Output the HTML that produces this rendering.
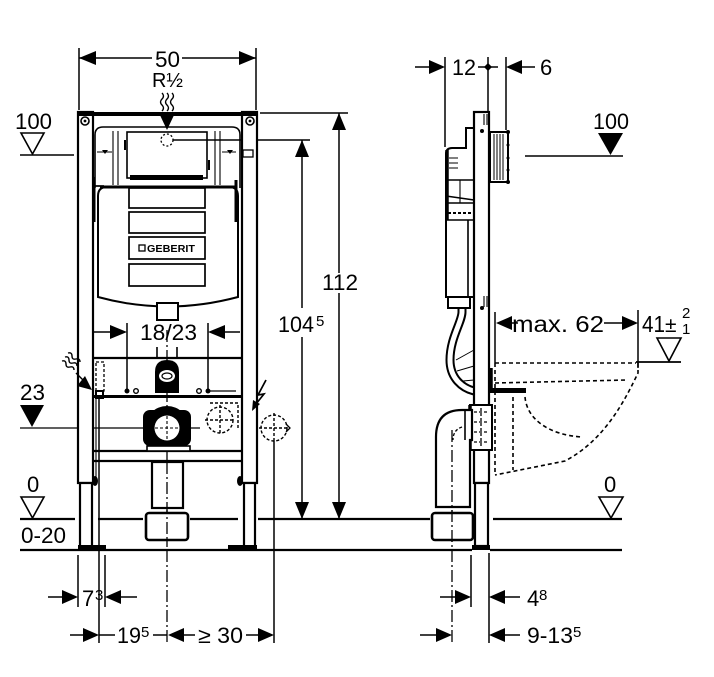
<!DOCTYPE html>
<html><head><meta charset="utf-8"><style>html,body{margin:0;padding:0;background:#fff}svg{display:block}</style></head>
<body>
<svg width="714" height="677" viewBox="0 0 714 677" xmlns="http://www.w3.org/2000/svg" font-family="'Liberation Sans', Arial, sans-serif">
<rect width="714" height="677" fill="#fff"/>

<!-- ================= LEFT VIEW ================= -->
<g stroke="#000" fill="none" stroke-width="1.5">
  <path d="M79 48V110M256 48V110M79 58H152M182 58H256"/>
  <path d="M162 93q3 3 0 6t0 6t0 6M167 93q3 3 0 6t0 6t0 6M172 93q3 3 0 6t0 6t0 6" stroke-width="1.4"/>
  <path d="M20 155H74"/>
  <path d="M20 428H200" stroke-width="1.3"/>
  <path d="M260 113H348M173 140H310"/>
  <path d="M302 140V308M302 337V519M339 113V273M339 293V519"/>
  <path d="M167 330V643" stroke-dasharray="12 3 2 3" stroke-width="1.3"/>
  <path d="M78 555V607M105 555V607M99 395V643M274 441V643"/>
  <path d="M93 332H111M225 332H240M127 323V392M208 323V392"/>
  <path d="M48 597H63M121 597H137M70 635H84M99 635H115M153 635H167M184 635H195M246 635H259"/>
</g>

<!-- Posts / frame -->
<g stroke="#000" stroke-width="2.2" fill="#fff">
  <rect x="78" y="112" width="15" height="371"/>
  <rect x="242" y="112" width="15" height="371"/>
  <rect x="80" y="483" width="12" height="64"/>
  <rect x="244" y="483" width="11" height="64"/>
</g>
<rect x="78" y="112" width="179" height="4" fill="#000"/>
<rect x="78" y="545" width="28" height="4" fill="#000"/>
<rect x="228" y="545" width="29" height="4" fill="#000"/>
<ellipse cx="95" cy="481" rx="3" ry="5" fill="#000"/>
<ellipse cx="240" cy="481" rx="3" ry="5" fill="#000"/>
<g stroke="#000" fill="none" stroke-width="1.6">
  <circle cx="85" cy="121" r="4"/><circle cx="250" cy="121" r="4"/>
</g>
<circle cx="85" cy="121" r="1.4" fill="#000"/><circle cx="250" cy="121" r="1.4" fill="#000"/>

<!-- Cistern upper mechanism -->
<g stroke="#000" fill="none" stroke-width="1.6">
  <path d="M95 188V135Q95 127 103 127H232Q240 127 240 135V188"/>
  <rect x="127" y="132" width="80" height="46"/>
  <path d="M113 131V185M118 131V185M215 131V185M220 131V185" stroke-width="1.1"/>
  <circle cx="167" cy="140" r="6" stroke-dasharray="2 2" stroke-width="1.3"/>
  <path d="M97 152H112M222 152H236" stroke-width="1.1"/>
  <rect x="243" y="150" width="10" height="7" stroke-width="1.3"/>
  <path d="M125 140v10M209 160v10" stroke-width="2"/>
</g>
<rect x="130" y="175" width="73" height="5" fill="#000"/>
<path d="M102 150l3 4 3-4zM227 150l3 4 3-4z" fill="#000"/>

<!-- Cistern body -->
<g stroke="#000" fill="#fff" stroke-width="2">
  <path d="M98 297V196Q98 187 107 187H229Q238 187 238 196V297Q167 316 98 297Z"/>
</g>
<path d="M100 187H236" stroke="#000" stroke-width="3"/>
<rect x="157" y="303" width="21" height="17" fill="#fff" stroke="#000" stroke-width="2"/>
<g stroke="#000" fill="none" stroke-width="1.7">
  <rect x="129" y="188" width="76" height="20"/>
  <rect x="129" y="212" width="76" height="21"/>
  <rect x="129" y="237" width="76" height="22"/>
  <rect x="129" y="264" width="76" height="22"/>
  <rect x="139" y="245" width="6" height="6" stroke-width="1.3"/>
  <path d="M94 177V222" stroke-width="3"/>
  <path d="M236 180V222" stroke-width="3"/>
  <path d="M94 186H104"/>
</g>
<text x="147" y="252" font-size="10" font-weight="bold" textLength="48" lengthAdjust="spacingAndGlyphs">GEBERIT</text>

<!-- Lower frame -->
<g stroke="#000" fill="none">
  <path d="M93 358H242" stroke-width="2.2"/>
  <path d="M157 347V358M177 347V358" stroke-width="1.6"/>
  <path d="M93 396.5H242" stroke-width="3"/>
  <path d="M93 451H242M93 461H242" stroke-width="2.2"/>
  <rect x="96" y="362" width="8" height="29" stroke-dasharray="3 2" stroke-width="1.3"/>
  <rect x="96" y="391" width="7" height="7" stroke-width="2"/>
  <path d="M96 398V483" stroke-width="1.1"/>
  <path d="M208 391H236" stroke-width="1.3"/>
  <circle cx="136" cy="391" r="2.3" stroke-width="1.4"/>
  <circle cx="199" cy="391" r="2.3" stroke-width="1.4"/>
</g>
<circle cx="127" cy="391" r="2.5" fill="#000"/>
<circle cx="208" cy="391" r="2.5" fill="#000"/>

<!-- Flush connector -->
<path d="M155 393V372Q155 360 167 360Q179 360 179 372V393Z" fill="#000"/>
<ellipse cx="167" cy="376" rx="8" ry="6" fill="#fff"/>
<ellipse cx="167" cy="376" rx="5" ry="3" fill="none" stroke="#000" stroke-width="1.2"/>

<!-- Big pipe saddle -->
<rect x="143" y="410" width="48" height="36" rx="7" fill="#000"/>
<circle cx="167" cy="428" r="22" fill="#000"/>
<circle cx="167" cy="428" r="12.5" fill="#fff"/>
<rect x="147" y="446" width="43" height="5" fill="#fff" stroke="#000" stroke-width="1.6"/>
<path d="M155 428H179M167 416V440" stroke="#000" stroke-width="1.1" stroke-dasharray="3 2"/>

<!-- Drain pipe + socket -->
<g stroke="#000" fill="#fff" stroke-width="2.2">
  <rect x="152" y="462" width="31" height="46"/>
  <rect x="146" y="513" width="42" height="27" rx="3" stroke-width="2.6"/>
</g>
<path d="M167 462V545" stroke="#000" stroke-width="1.3" stroke-dasharray="12 3 2 3"/>

<!-- Dashed water circles -->
<g stroke="#000" fill="none" stroke-width="1.4" stroke-dasharray="3 2">
  <circle cx="220" cy="420" r="13"/>
  <path d="M205 420H235M220 405V435"/>
  <path d="M210 403H238V430"/>
  <circle cx="274" cy="428" r="13"/>
  <path d="M259 428H289M274 413V443"/>
</g>
<path d="M286 424l4 4-4 4" stroke="#000" fill="none" stroke-width="1.3"/>

<!-- Lightning -->
<path d="M266 380L258 395L264 394L256 404" stroke="#000" fill="none" stroke-width="1.7"/>
<polygon points="252,411 260,404 253,400" fill="#000"/>

<!-- Wavy arrow near 23 -->
<g stroke="#000" fill="none" stroke-width="1.4">
  <path d="M62 361q4 -1 4 3t4 3t4 3"/>
  <path d="M65 357q4 -1 4 3t4 3t4 3"/>
  <path d="M68 353q4 -1 4 3t4 3t4 3"/>
  <path d="M76 373L85 382"/>
</g>
<polygon points="92,390 77,386 85,376" fill="#000"/>

<!-- Level triangles left -->
<g stroke="#000" fill="none" stroke-width="1.6">
  <polygon points="21,133 44,133 32.5,154"/>
  <polygon points="21,497 44,497 32.5,518"/>
</g>
<polygon points="20,405 44,405 32,427" fill="#000"/>

<!-- Arrowheads left -->
<g fill="#000">
  <polygon points="79,58 96,51 96,65"/>
  <polygon points="256,58 239,51 239,65"/>
  <polygon points="159,113 175,113 167,130"/>
  <polygon points="302,140 295,157 309,157"/>
  <polygon points="302,519 295,502 309,502"/>
  <polygon points="339,113 332,130 346,130"/>
  <polygon points="339,519 332,502 346,502"/>
  <polygon points="127,332 110,325 110,339"/>
  <polygon points="208,332 225,325 225,339"/>
  <polygon points="78,597 62,590 62,604"/>
  <polygon points="105,597 121,590 121,604"/>
  <polygon points="99,635 83,628 83,642"/>
  <polygon points="168,635 184,628 184,642"/>
  <polygon points="274,635 258,628 258,642"/>
</g>

<!-- Floor lines -->
<g stroke="#000" stroke-width="2.3">
  <path d="M20 519H75M98 519H143M190 519H238M258 519H430M493 519H622"/>
  <path d="M20 550H472M490 550H622"/>
</g>

<!-- ================= RIGHT VIEW ================= -->
<g stroke="#000" fill="none" stroke-width="1.5">
  <path d="M445 57V147M488 57V112M506 57V130M415 67H429M478 67H498M522 67H535"/>
  <path d="M525 156H623"/>
  <path d="M495 312V363M638 310V368M512 323H518M604 323H622"/>
  <path d="M636 362H681" stroke-width="1.7"/>
  <path d="M471 555V607M489 553V643M440 597H455M505 597H520M420 635H436M505 635H520"/>
  <path d="M452 430V643" stroke-dasharray="12 3 2 3" stroke-width="1.3"/>
</g>
<polygon points="488,63 492,67 488,71 484,67" fill="#000"/>

<!-- Flush pipe (tube) -->
<path d="M462 300V312C462 322 450 338 450 360C450 378 462 388 474 391" stroke="#000" stroke-width="9" fill="none"/>
<path d="M462 300V312C462 322 450 338 450 360C450 378 462 388 474 391" stroke="#fff" stroke-width="5" fill="none"/>
<path d="M456 360L474 350M457 371L474 366M463 381L474 380" stroke="#000" stroke-width="1"/>

<!-- Cistern side -->
<g stroke="#000" fill="#fff" stroke-width="2">
  <path d="M474 128H466V148H452Q446 148 446 154V297H474Z"/>
  <rect x="448" y="297" width="22" height="11"/>
</g>
<g stroke="#000" fill="none" stroke-width="1.6">
  <path d="M447 150V220" stroke-width="3.5"/>
  <path d="M446 180H474M446 196L474 200M446 203H474M446 220H474M468 220V297"/>
  <path d="M448 213H474" stroke-dasharray="3 2" stroke-width="2"/>
  <path d="M449 158H458M449 163H458M449 168H458" stroke-width="1.1"/>
  <path d="M460 180V203" stroke-width="1.1"/>
</g>

<!-- Post -->
<g stroke="#000" stroke-width="2.2" fill="#fff">
  <rect x="474" y="112" width="15" height="371"/>
  <rect x="475" y="483" width="13" height="63"/>
</g>
<rect x="472" y="545" width="18" height="5" fill="#000"/>
<circle cx="482" cy="131" r="2" fill="#000"/>
<circle cx="482" cy="308" r="2" fill="#000"/>
<path d="M484 114V125M487 114V125M484 296V307M487 296V307" stroke="#000" stroke-width="1.1"/>

<!-- Plate -->
<rect x="490" y="132" width="18" height="50" fill="#fff" stroke="#000" stroke-width="2"/>
<path d="M494 134V180M497 134V180M500 134V180M503 134V180" stroke="#000" stroke-width="1"/>
<g fill="#000">
  <circle cx="508" cy="132" r="2"/><circle cx="508" cy="145" r="1.5"/><circle cx="508" cy="158" r="1.5"/><circle cx="508" cy="170" r="1.5"/><circle cx="508" cy="182" r="2"/>
</g>

<!-- Bolt & bar -->
<rect x="488" y="388" width="38" height="5" fill="#000"/>
<path d="M491 368V388" stroke="#000" stroke-width="3.5"/>

<!-- Connector block -->
<rect x="470" y="405" width="22" height="45" fill="#fff" stroke="#000" stroke-width="2"/>
<path d="M474 412H488M474 422H488M474 432H488M474 442H488M481 408V447" stroke="#000" stroke-width="1.3" stroke-dasharray="3 2"/>
<path d="M470 405V450" stroke="#000" stroke-width="3.5"/>

<!-- Drain elbow -->
<g stroke="#000" fill="#fff" stroke-width="2.2">
  <path d="M472 410H462Q436 410 436 437V507H470V440H472Z"/>
  <rect x="432" y="513" width="41" height="27" rx="3" stroke-width="2.6"/>
</g>
<path d="M465 410V440" stroke="#000" stroke-width="1.6"/>
<path d="M462 427Q453 430 453 440" stroke="#000" stroke-width="1.3" stroke-dasharray="3 2" fill="none"/>
<path d="M452 430V545" stroke="#000" stroke-width="1.3" stroke-dasharray="12 3 2 3"/>

<!-- Dashed toilet -->
<g stroke="#000" fill="none" stroke-width="1.6" stroke-dasharray="4 3">
  <path d="M495 363H636"/>
  <path d="M495 363V475"/>
  <path d="M638 363V373C625 400 605 440 565 461L495 475"/>
  <path d="M495 383L627 380"/>
  <path d="M525 397C527 420 550 435 582 437"/>
  <path d="M513 397V470"/>
</g>

<!-- Right triangles -->
<polygon points="598,133 623,133 610.5,155" fill="#000"/>
<g stroke="#000" fill="none" stroke-width="1.6">
  <polygon points="657,338 681,338 669,361"/>
  <polygon points="599,497 623,497 611,518"/>
</g>

<!-- Arrowheads right -->
<g fill="#000">
  <polygon points="445,67 429,60 429,74"/>
  <polygon points="506,67 522,60 522,74"/>
  <polygon points="496,323 512,316 512,330"/>
  <polygon points="638,323 622,316 622,330"/>
  <polygon points="471,597 455,590 455,604"/>
  <polygon points="489,597 505,590 505,604"/>
  <polygon points="452,635 436,628 436,642"/>
  <polygon points="489,635 505,628 505,642"/>
</g>

<!-- ================= TEXT ================= -->
<g font-size="22" fill="#000">
  <text x="155" y="67" textLength="25" lengthAdjust="spacingAndGlyphs">50</text>
  <text x="152" y="87" font-size="20" textLength="31" lengthAdjust="spacingAndGlyphs">R½</text>
  <text x="15" y="129" textLength="37" lengthAdjust="spacingAndGlyphs">100</text>
  <text x="322" y="290" textLength="36" lengthAdjust="spacingAndGlyphs">112</text>
  <text x="278" y="332" textLength="36" lengthAdjust="spacingAndGlyphs">104</text>
  <text x="316" y="326" font-size="15">5</text>
  <text x="140" y="340" textLength="57" lengthAdjust="spacingAndGlyphs">18/23</text>
  <text x="20" y="400" textLength="25" lengthAdjust="spacingAndGlyphs">23</text>
  <text x="27" y="492">0</text>
  <text x="21" y="543" textLength="45" lengthAdjust="spacingAndGlyphs">0-20</text>
  <text x="82" y="606">7</text>
  <text x="95" y="600" font-size="15">3</text>
  <text x="117" y="643" textLength="24" lengthAdjust="spacingAndGlyphs">19</text>
  <text x="141" y="637" font-size="15">5</text>
  <text x="198" y="643" textLength="45" lengthAdjust="spacingAndGlyphs">≥ 30</text>

  <text x="452" y="75" textLength="24" lengthAdjust="spacingAndGlyphs">12</text>
  <text x="540" y="75">6</text>
  <text x="593" y="129" textLength="36" lengthAdjust="spacingAndGlyphs">100</text>
  <text x="512" y="332" font-size="23" textLength="92" lengthAdjust="spacingAndGlyphs">max. 62</text>
  <text x="642" y="332" font-size="23" textLength="23" lengthAdjust="spacingAndGlyphs">41</text>
  <text x="665" y="332" font-size="21">±</text>
  <text x="682" y="318" font-size="15">2</text>
  <text x="682" y="334" font-size="15">1</text>
  <text x="604" y="492">0</text>
  <text x="527" y="606">4</text>
  <text x="539" y="600" font-size="15">8</text>
  <text x="527" y="643" textLength="46" lengthAdjust="spacingAndGlyphs">9-13</text>
  <text x="573" y="637" font-size="15">5</text>
</g>
</svg>
</body></html>
